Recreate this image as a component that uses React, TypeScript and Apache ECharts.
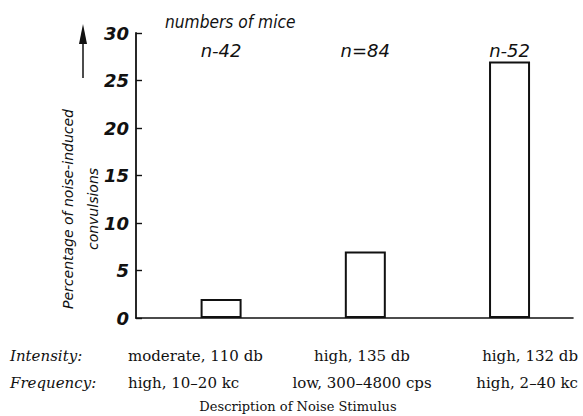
import React, { useEffect, useRef } from "react";
import * as echarts from "echarts";

// ---- data ----
const conditionIndex = [0, 1, 2];
const convulsionPct = [2, 7, 27];
const sampleSizes = ["n-42", "n=84", "n-52"];
const intensityLabels = ["moderate, 110 db", "high, 135 db", "high, 132 db"];
const frequencyLabels = ["high, 10–20 kc", "low, 300–4800 cps", "high, 2–40 kc"];
const rowTitles = ["Intensity:", "Frequency:"];
const yMin = 0;
const yMax = 30;
const yStep = 5;
const yTitle = "Percentage of noise-induced\nconvulsions";
const topTitle = "numbers of mice";
const xTitle = "Description of Noise Stimulus";

const SANS = "'DejaVu Sans', 'Liberation Sans', sans-serif";
const SERIF = "'DejaVu Serif', 'Liberation Serif', serif";
const INK = "#111";

export default function App() {
  const ref = useRef<HTMLDivElement>(null);
  useEffect(() => {
    if (!ref.current) return;
    const chart = echarts.init(ref.current, undefined, { renderer: "svg" });
    chart.setOption({
      animation: false,
      backgroundColor: "#fff",
      grid: { left: 136, right: 10, top: 33, bottom: 98, containLabel: false },
      xAxis: {
        type: "value",
        min: -0.59,
        max: 2.44,
        axisLine: { show: true, onZero: false, lineStyle: { color: INK, width: 1.6 } },
        axisTick: { show: false },
        axisLabel: { show: false },
        splitLine: { show: false },
      },
      yAxis: {
        type: "value",
        min: yMin,
        max: yMax,
        interval: yStep,
        axisLine: { show: true, onZero: false, lineStyle: { color: INK, width: 1.8 } },
        axisTick: { show: true, inside: true, length: 6, lineStyle: { color: INK, width: 1.4 } },
        axisLabel: {
          color: INK,
          fontFamily: SANS,
          fontStyle: "italic",
          fontWeight: "bold",
          fontSize: 18,
          margin: 7,
        },
        splitLine: { show: false },
      },
      series: [
        {
          type: "bar",
          data: conditionIndex.map((i) => [i, convulsionPct[i]]),
          barWidth: 41,
          itemStyle: { color: "#fff", borderColor: INK, borderWidth: 2 },
        },
      ],
    });

    const px = conditionIndex.map((i) => chart.convertToPixel({ xAxisIndex: 0 }, i) as number);

    const graphics: any[] = [
      {
        type: "text",
        x: 165,
        y: 22,
        scaleX: 0.86,
        style: { text: topTitle, font: `italic 18px ${SANS}`, fill: INK, textAlign: "left", textVerticalAlign: "middle" },
      },
      ...sampleSizes.map((s, i) => ({
        type: "text",
        x: px[i],
        y: 50,
        style: { text: s, font: `italic 18px ${SANS}`, fill: INK, textAlign: "center", textVerticalAlign: "middle" },
      })),
      {
        type: "text",
        x: 80,
        y: 209,
        rotation: Math.PI / 2,
        style: {
          text: yTitle,
          font: `italic 14px ${SANS}`,
          lineHeight: 25,
          fill: INK,
          textAlign: "center",
          textVerticalAlign: "middle",
        },
      },
      { type: "line", shape: { x1: 83, y1: 78, x2: 83, y2: 36 }, style: { stroke: INK, lineWidth: 1.5 } },
      { type: "polygon", shape: { points: [[83, 24], [79, 44], [87, 44]] }, style: { fill: INK } },
      ...rowTitles.map((t, r) => ({
        type: "text",
        x: 10,
        y: 356 + r * 27,
        style: { text: t, font: `italic 15px ${SERIF}`, fill: INK, textAlign: "left", textVerticalAlign: "middle" },
      })),
    ];
    const colAlign = ["left", "center", "right"];
    const colX = [128, 362, 578];
    [intensityLabels, frequencyLabels].forEach((row, r) => {
      row.forEach((t, i) => {
        graphics.push({
          type: "text",
          x: colX[i],
          y: 356 + r * 27,
          style: { text: t, font: `15px ${SERIF}`, fill: INK, textAlign: colAlign[i], textVerticalAlign: "middle" },
        });
      });
    });
    graphics.push({
      type: "text",
      x: 298,
      y: 406,
      style: { text: xTitle, font: `13px ${SERIF}`, fill: INK, textAlign: "center", textVerticalAlign: "middle" },
    });

    chart.setOption({ graphic: graphics });
    return () => chart.dispose();
  }, []);
  return <div ref={ref} style={{ position: "absolute", left: 0, top: 0, width: 583, height: 416 }} />;
}
